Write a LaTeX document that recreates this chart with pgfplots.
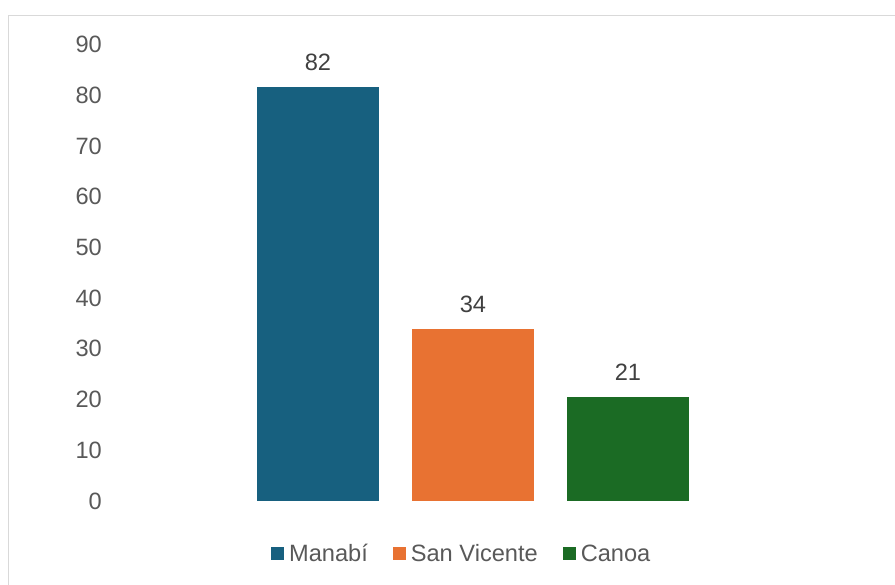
\documentclass[border=0pt]{standalone}
\usepackage{fontspec}
\setmainfont{Liberation Sans}
\usepackage{pgfplots}
\pgfplotsset{compat=1.18}
\definecolor{cblue}{HTML}{17607F}
\definecolor{corange}{HTML}{E87232}
\definecolor{cgreen}{HTML}{1B6B24}
\definecolor{ctick}{HTML}{595959}
\definecolor{clabel}{HTML}{404040}
\definecolor{cframe}{HTML}{D9D9D9}
\begin{document}
\begin{tikzpicture}[x=1bp,y=1bp]
\path[use as bounding box] (0,0) rectangle (895,585);
\draw[cframe, line width=1.5bp] (8.5,0) -- (8.5,569.5) -- (895,569.5);
\begin{axis}[
  at={(105bp,84bp)}, anchor=south west,
  scale only axis, width=775bp, height=456.5bp,
  xmin=-1.374, xmax=3.626, ymin=0, ymax=90,
  ytick={0,10,...,90}, xtick=\empty,
  axis line style={draw=none}, major tick style={draw=none},
  /pgf/number format/assume math mode=true,
  yticklabel style={font=\fontsize{23.7}{28}\selectfont, text=ctick, inner sep=0pt, xshift=-3bp},
  ybar, bar width=122bp,
  nodes near coords={\pgfmathprintnumber[fixed,precision=0,assume math mode=true]{\pgfplotspointmeta}},
  nodes near coords style={font=\fontsize{23.7}{28}\selectfont, text=clabel, inner sep=0pt, anchor=south, yshift=16.3bp},
  clip=false,
  legend columns=3,
  legend image code/.code={\fill[#1] (0bp,-6.5bp) rectangle (13bp,6.5bp);},
  legend style={draw=none, fill=none, inner sep=0pt,
    at={(0.459,-0.116)}, anchor=center,
    nodes={inner sep=0pt, text=ctick, font=\fontsize{23.7}{28}\selectfont},
    /tikz/every odd column/.append style={column sep=5bp},
    /tikz/every even column/.append style={column sep=25bp}},
]
\addplot[fill=cblue, draw=none, bar shift=0pt] coordinates {(0,81.6)};
\addlegendentry{Manabí}
\addplot[fill=corange, draw=none, bar shift=0pt] coordinates {(1,33.9)};
\addlegendentry{San Vicente}
\addplot[fill=cgreen, draw=none, bar shift=0pt] coordinates {(2,20.6)};
\addlegendentry{Canoa}
\end{axis}
\end{tikzpicture}
\end{document}
